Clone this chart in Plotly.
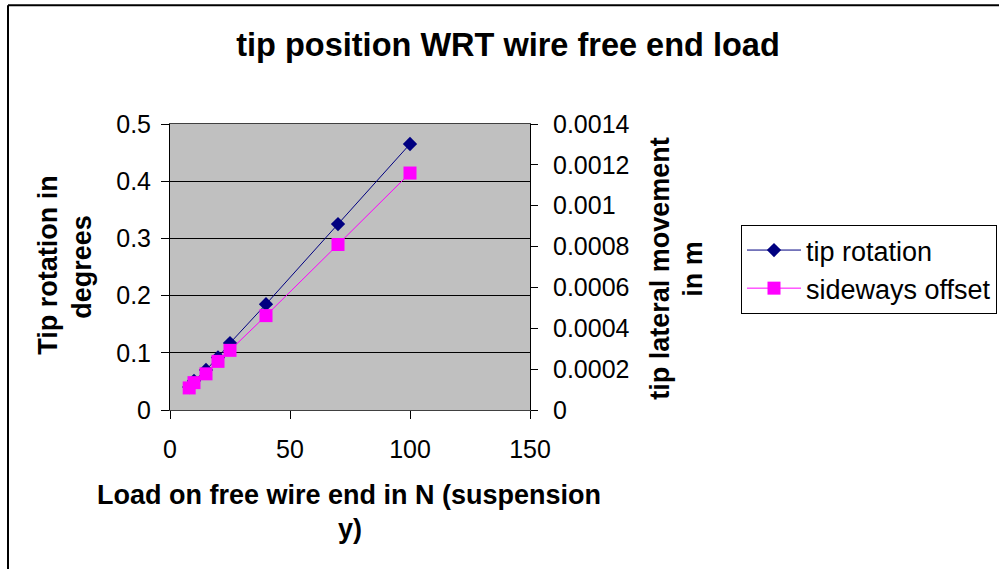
import plotly.graph_objects as go

# Data
load_N = [8, 10, 15, 20, 25, 40, 70, 100]
tip_rotation_deg = [0.040, 0.051, 0.070, 0.092, 0.117, 0.185, 0.325, 0.465]
sideways_offset_m = [0.000108, 0.000134, 0.000177, 0.000238, 0.000292, 0.000462, 0.000810, 0.001160]

right_tick_vals = [0, 0.0002, 0.0004, 0.0006, 0.0008, 0.001, 0.0012, 0.0014]
right_tick_text = ["0", "0.0002", "0.0004", "0.0006", "0.0008", "0.001", "0.0012", "0.0014"]

FONT = "Liberation Sans, Arial, sans-serif"

fig = go.Figure()
fig.add_trace(go.Scatter(
    x=load_N, y=tip_rotation_deg, name="tip rotation", mode="lines+markers",
    line=dict(color="#000080", width=1),
    marker=dict(symbol="diamond", size=11, color="#000080"),
    yaxis="y",
))
fig.add_trace(go.Scatter(
    x=load_N, y=sideways_offset_m, name="sideways offset", mode="lines+markers",
    line=dict(color="#FF00FF", width=1),
    marker=dict(symbol="square", size=13, color="#FF00FF"),
    yaxis="y2",
))

L, R, T, B = 170, 530, 124, 410.5
W, H = 999, 569
pw, ph = R - L, B - T

def px_x(p):
    return (p - L) / pw

def px_y(p):
    return (B - p) / ph

TICK = 25
fig.update_layout(
    width=W, height=H,
    margin=dict(l=L, r=W - R, t=T, b=H - B, pad=0, autoexpand=False),
    paper_bgcolor="white",
    plot_bgcolor="#C0C0C0",
    font=dict(family=FONT, size=TICK, color="black"),
    title=dict(text="<b>tip position WRT wire free end load</b>",
               x=508 / W, xanchor="center", xref="container",
               y=1 - 45 / H, yanchor="middle", yref="container",
               font=dict(size=32.5, family=FONT, color="black")),
    xaxis=dict(range=[0, 150], dtick=50, tick0=0,
               showgrid=False, zeroline=False,
               showline=True, linecolor="#404040", linewidth=1, mirror=True,
               ticks="outside", ticklen=8, tickcolor="black",
               ticklabelstandoff=9,
               tickfont=dict(size=TICK)),
    yaxis=dict(range=[0, 0.5], dtick=0.1, tick0=0,
               showgrid=True, gridcolor="black", gridwidth=1, zeroline=False,
               showline=True, linecolor="black", linewidth=1,
               ticks="outside", ticklen=8, tickcolor="black",
               ticklabelstandoff=5,
               tickfont=dict(size=TICK)),
    yaxis2=dict(range=[0, 0.0014], overlaying="y", side="right",
                tickvals=right_tick_vals, ticktext=right_tick_text,
                showgrid=False, zeroline=False,
                showline=True, linecolor="black", linewidth=1,
                ticks="outside", ticklen=7, tickcolor="black",
                ticklabelstandoff=10,
                tickfont=dict(size=TICK)),
    legend=dict(x=741 / W, y=1 - 225 / H, xref="container", yref="container",
                xanchor="left", yanchor="top",
                bgcolor="white", bordercolor="black", borderwidth=1,
                itemwidth=54,
                font=dict(size=27, family=FONT), tracegroupgap=0),
    showlegend=True,
)

ann_font = dict(size=27, family=FONT, color="black")
annotations = [
    dict(text="<b>Load on free wire end in N (suspension</b>", x=px_x(349), y=px_y(496)),
    dict(text="<b>y)</b>", x=px_x(350), y=px_y(530)),
    dict(text="<b>Tip rotation in</b>", x=px_x(48), y=px_y(266), textangle=-90),
    dict(text="<b>degrees</b>", x=px_x(82), y=px_y(267), textangle=-90),
    dict(text="<b>tip lateral movement</b>", x=px_x(660), y=px_y(269), textangle=-90),
    dict(text="<b>in m</b>", x=px_x(693), y=px_y(269), textangle=-90),
]
for a in annotations:
    fig.add_annotation(xref="paper", yref="paper", xanchor="center", yanchor="middle",
                       showarrow=False, font=ann_font, **a)

# chart frame (left and top edges visible in the reference)
fig.add_shape(type="line", xref="paper", yref="paper",
              x0=px_x(8), x1=px_x(8), y0=px_y(5), y1=px_y(580),
              line=dict(color="black", width=2))
fig.add_shape(type="line", xref="paper", yref="paper",
              x0=px_x(8), x1=px_x(1010), y0=px_y(5), y1=px_y(5),
              line=dict(color="black", width=2))

fig.write_html(
    "out.html",
    config={"displayModeBar": False},
    post_script="document.body.style.margin='0';document.body.style.overflow='hidden';",
)
